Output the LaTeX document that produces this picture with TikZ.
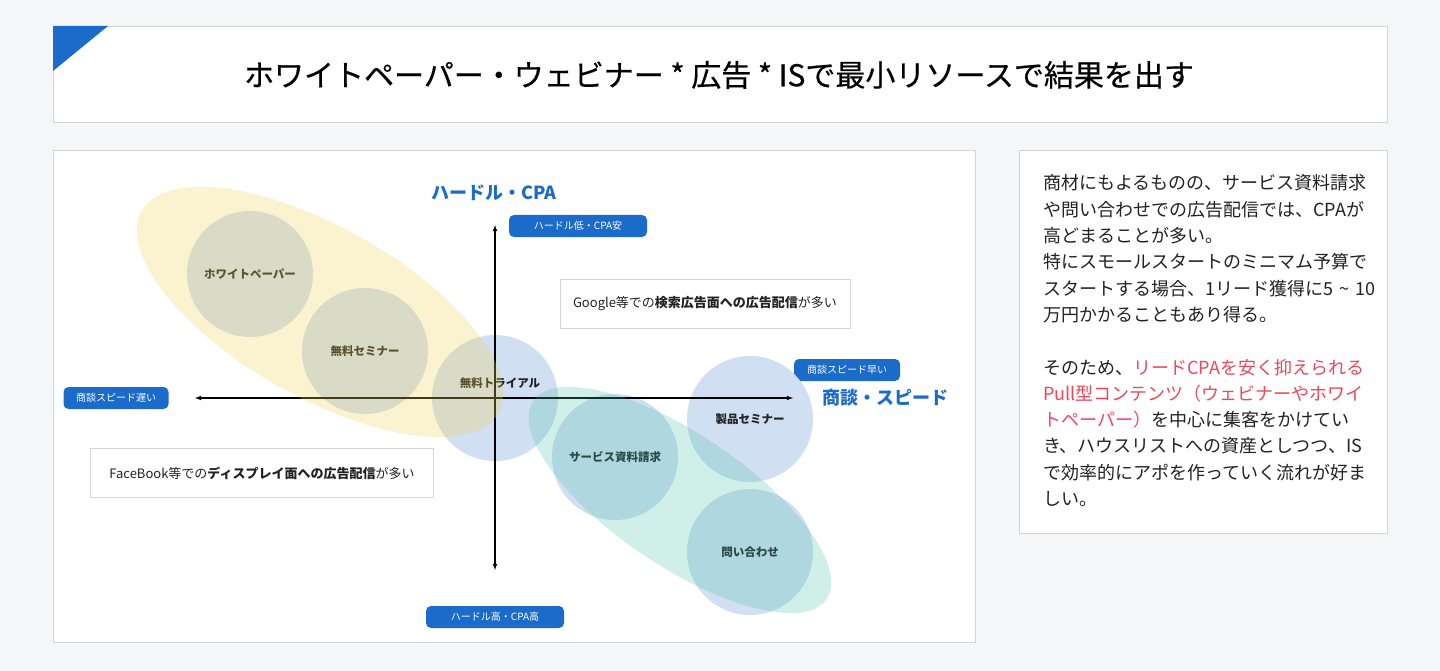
\documentclass[tikz,border=0pt]{standalone}
\usepackage{fontspec}
\setmainfont{Noto Sans CJK JP}
\newfontfamily\titlefont[FakeBold=0.5]{Noto Sans CJK JP}
\usetikzlibrary{shapes.geometric}
\definecolor{pageg}{HTML}{F5F6F8}
\definecolor{frameg}{HTML}{D3D5D8}
\definecolor{mainblue}{HTML}{1A6BCA}
\definecolor{circblue}{HTML}{D0DFF2}
\definecolor{wpyellow}{RGB}{242,212,85}
\definecolor{leadteal}{RGB}{75,195,171}
\definecolor{pullred}{HTML}{F0465A}
\definecolor{inktext}{HTML}{222222}

\begin{document}
\begin{tikzpicture}[x=1pt,y=-1pt,
  panel/.style={draw=frameg,fill=white,line width=0.8pt},
  chan/.style={circle,fill=circblue,minimum size=126pt,inner sep=0pt,text=inktext,
    font=\fontsize{11.5}{12}\selectfont\bfseries},
  pill/.style={rounded corners=5pt,fill=mainblue,text=white,minimum height=22pt,inner sep=0pt,
    font=\fontsize{10}{10}\selectfont},
  axislabel/.style={text=mainblue,font=\fontsize{18}{20}\selectfont\bfseries},
  notebox/.style={draw=frameg,fill=white,line width=0.8pt,minimum height=49pt,inner sep=0pt,
    text=inktext,font=\fontsize{13}{15}\selectfont},
  axis/.style={<->,>=latex,line width=1.1pt,black}]

\fill[pageg] (0,0) rectangle (1440,671);

% title bar
\draw[panel] (53,26) rectangle (1387,122);
\fill[mainblue] (53,26) -- (108,26) -- (53,71) -- cycle;
\node[text=black,font=\titlefont\fontsize{30}{32}\selectfont] (title) at (719,75)
  {ホワイトペーパー・ウェビナー * 広告 * ISで最小リソースで結果を出す};

% chart panel and comment panel
\draw[panel] (53,150) rectangle (975,642);
\draw[panel] (1019,150) rectangle (1387,533);

% axis captions
\node[axislabel] (hurdle) at (494,193) {ハードル・CPA};
\node[axislabel] (speed) at (885,398) {商談・スピード};
\node[pill,minimum width=138pt] (cheap) at (578,226) {ハードル低・CPA安};
\node[pill,minimum width=138pt] (costly) at (495,617) {ハードル高・CPA高};
\node[pill,minimum width=106pt] (fast) at (847,370) {商談スピード早い};
\node[pill,minimum width=105pt] (slow) at (116,398) {商談スピード遅い};

% channel notes
\node[notebox,minimum width=290pt] (search) at (705,304)
  {Google等での\textbf{検索広告面への広告配信}が多い};
\node[notebox,minimum width=343pt] (display) at (262,473)
  {FaceBook等での\textbf{ディスプレイ面への広告配信}が多い};

% channels
\node[chan] (whitepaper) at (250,274) {ホワイトペーパー};
\node[chan] (seminar) at (365,351) {無料セミナー};
\node[chan] (trial) at (495,398) {};
\node[chan] (productsem) at (750,419) {製品セミナー};
\node[chan] (docreq) at (615,457) {サービス資料請求};
\node[chan] (inquiry) at (750,552) {問い合わせ};

% axes
\coordinate (axL) at (195,398);
\coordinate (axR) at (793,398);
\coordinate (axT) at (495,225);
\coordinate (axB) at (495,570);
\draw[axis] (axL) -- (axR);
\draw[axis] (axB) -- (axT);
\node[text=inktext,font=\fontsize{11.5}{12}\selectfont\bfseries] (triallbl) at (500,383) {無料トライアル};

% groups
\fill[wpyellow,fill opacity=0.28,rotate around={-29.5:(320,312)}] (320,312) ellipse [x radius=205, y radius=85];
\fill[leadteal,fill opacity=0.25,rotate around={-34:(680,500)}] (680,500) ellipse [x radius=177, y radius=66];

% comment
\node[anchor=base west,text width=345pt,align=left,inner sep=0pt,text=inktext,
  font=\fontsize{18}{26.3}\selectfont] (comment) at (1043,190)
  {商材にもよるものの、サービス資料請求\\
   や問い合わせでの広告配信では、CPAが\\
   高どまることが多い。\\
   特にスモールスタートのミニマム予算で\\
   スタートする場合、1リード獲得に5 \textasciitilde{} 10\\
   万円かかることもあり得る。\\[26.3pt]
   そのため、\textcolor{pullred}{リードCPAを安く抑えられる}\\
   \textcolor{pullred}{Pull型コンテンツ（ウェビナーやホワイ}\\
   \textcolor{pullred}{トペーパー）}を中心に集客をかけてい\\
   き、ハウスリストへの資産としつつ、IS\\
   で効率的にアポを作っていく流れが好ま\\
   しい。};
\end{tikzpicture}
\end{document}
